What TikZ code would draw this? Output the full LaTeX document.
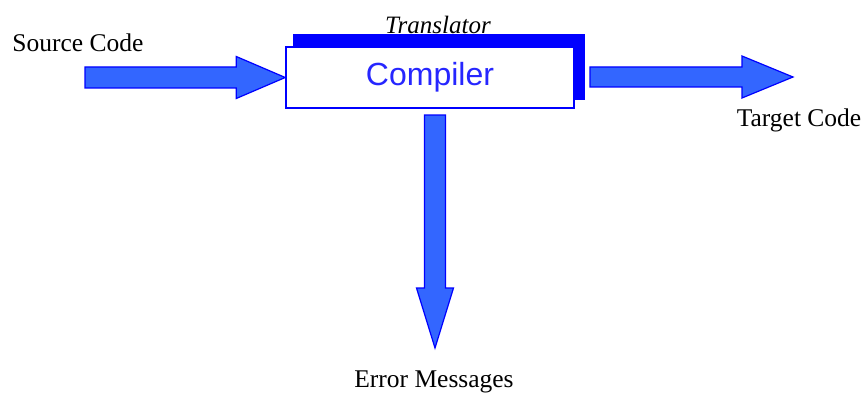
\documentclass[tikz,border=0pt]{standalone}
\usepackage{fontspec}
\setmainfont{Liberation Serif}
\newfontfamily\compfont{Liberation Sans}
\usetikzlibrary{calc}
\definecolor{arrowfill}{RGB}{51,102,255}
\definecolor{edgeblue}{RGB}{0,0,255}
\tikzset{
  fat/.style={fill=arrowfill, draw=edgeblue, line width=1.2pt, line join=miter},
  lbl/.style={inner sep=0pt, font=\fontsize{25.5}{28}\selectfont},
}
\begin{document}
\begin{tikzpicture}[x=1pt,y=-1pt]
\useasboundingbox (0,0) rectangle (865,396);
% labels
\node[lbl] (src) at (78,43) {Source Code};
\node[lbl] (tgt) at (799,120) {Target Code};
\node[lbl] (err) at (434,382) {Error Messages};
\node[inner sep=0pt, anchor=base, font=\fontsize{25}{28}\selectfont\itshape] (trans) at (438,34) {Translator};
% compiler box geometry
\coordinate (cnw) at (286,47);
\coordinate (cse) at (574,108);
% shadow
\fill[edgeblue] ([xshift=7pt,yshift=13pt]cnw) rectangle ([xshift=11pt,yshift=8pt]cse);
\node[draw=edgeblue, line width=1.5pt, fill=white, minimum width=288pt, minimum height=61pt, inner sep=0pt,
      text=edgeblue!85!white, font=\compfont\fontsize{32}{36}\selectfont] (comp) at (430,77.5) {Compiler};
% source arrow
\coordinate (sa) at (85,77.5);
\draw[fat] ([yshift=-10.5pt]sa) -- ([xshift=-49pt,yshift=-10.5pt]comp.west) -- ([xshift=-49pt,yshift=-21pt]comp.west)
  -- (comp.west) -- ([xshift=-49pt,yshift=21pt]comp.west) -- ([xshift=-49pt,yshift=10.5pt]comp.west) -- ([yshift=10.5pt]sa) -- cycle;
% target arrow
\coordinate (ta) at (590,77);
\coordinate (tb) at (793,77);
\draw[fat] ([yshift=-10pt]ta) -- ([xshift=-51pt,yshift=-10pt]tb) -- ([xshift=-51pt,yshift=-21pt]tb)
  -- (tb) -- ([xshift=-51pt,yshift=21pt]tb) -- ([xshift=-51pt,yshift=10pt]tb) -- ([yshift=10pt]ta) -- cycle;
% error arrow
\coordinate (ea) at (435,115);
\coordinate (eb) at (435,348);
\draw[fat] ([xshift=-10.5pt]ea) -- ([xshift=-10.5pt,yshift=60pt]eb) -- ([xshift=-18.5pt,yshift=60pt]eb)
  -- (eb) -- ([xshift=18.5pt,yshift=60pt]eb) -- ([xshift=10.5pt,yshift=60pt]eb) -- ([xshift=10.5pt]ea) -- cycle;
\end{tikzpicture}
\end{document}
